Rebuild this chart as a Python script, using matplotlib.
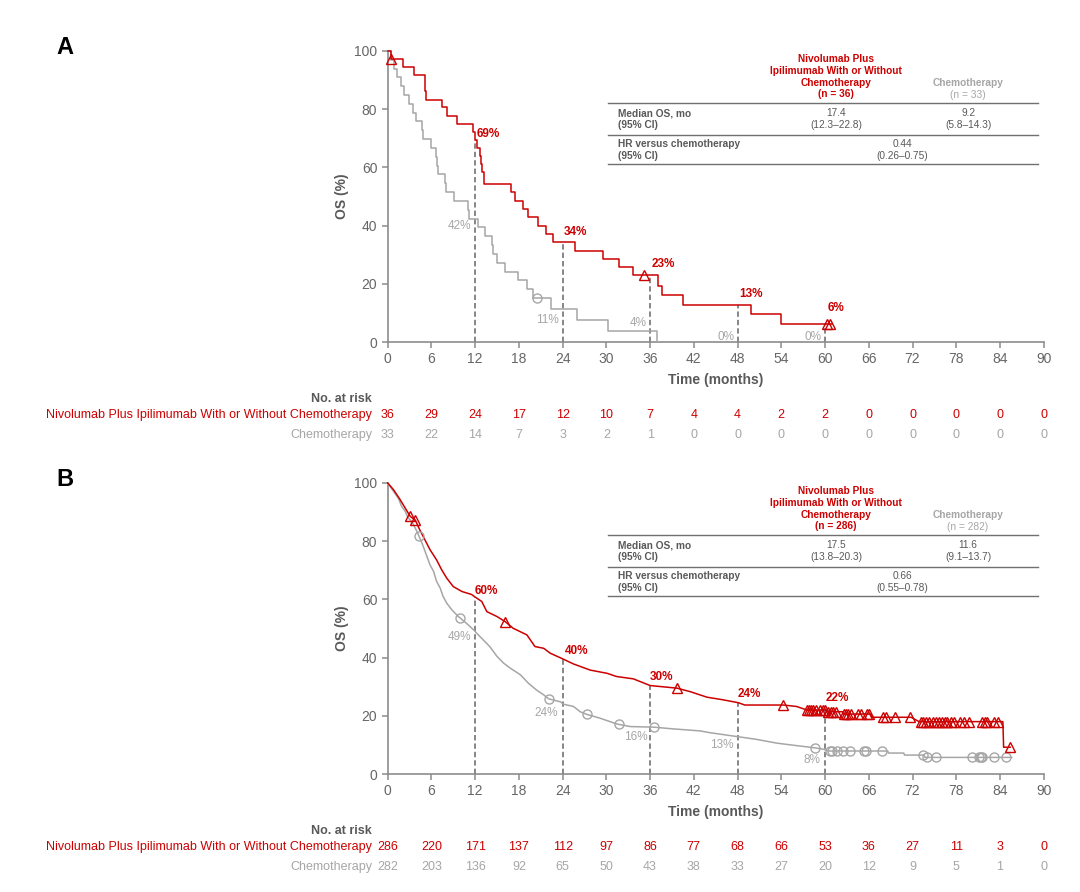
import numpy as np
import matplotlib.pyplot as plt
from matplotlib.lines import Line2D
from matplotlib.transforms import blended_transform_factory

plt.rcParams['font.family'] = ['Liberation Sans', 'DejaVu Sans']

RED = '#CC0000'
GREY = '#A6A6A6'
DARK = '#595959'
AXIS = '#8C8C8C'
W, H = 1080, 892

# ---------------- panel A (step curves) ----------------
a_nivo_t = [0, 0.4, 2.15, 3.6, 5.1, 5.2, 7.4, 8.1, 9.5, 11.7, 12.0, 12.3, 12.6, 12.8,
            12.95, 13.2, 16.9, 17.5, 18.5, 19.3, 20.6, 21.7, 22.7, 25.7, 29.5, 31.7,
            33.7, 37.1, 37.7, 40.5, 49.8, 53.9, 60.9]
a_nivo_s = [100, 97.2, 94.4, 91.7, 86.1, 83.3, 80.6, 77.8, 75.0, 72.2, 69.4, 66.7, 63.9,
            61.1, 58.3, 54.3, 51.4, 48.6, 45.7, 42.9, 40.0, 37.1, 34.3, 31.4, 28.6, 25.7,
            22.9, 19.4, 16.1, 12.8, 9.5, 6.3, 6.3]
a_chemo_t = [0, 0.4, 0.8, 1.24, 1.78, 2.29, 2.97, 3.43, 3.89, 4.67, 4.89, 5.9, 6.59, 6.72,
             6.86, 7.87, 8.0, 9.15, 11.07, 11.2, 12.35, 13.36, 14.32, 14.5, 14.96, 16.1,
             17.93, 19.08, 19.9, 22.37, 25.94, 30.19, 37.0]
a_chemo_s = [100, 97.0, 93.9, 90.9, 87.9, 84.8, 81.8, 78.8, 75.8, 72.7, 69.7, 66.7, 63.6,
             60.6, 57.6, 54.5, 51.5, 48.5, 45.5, 42.4, 39.4, 36.4, 33.3, 30.3, 27.3, 24.2,
             21.2, 18.2, 15.2, 11.4, 7.6, 3.8, 0]
a_nivo_cens = [0.4, 35.2, 60.3, 60.7]
a_chemo_cens = [20.45]
a_nivo_pct = ['69%', '34%', '23%', '13%', '6%']
a_chemo_pct = ['42%', '11%', '4%', '0%', '0%']
a_nivo_risk = [36, 29, 24, 17, 12, 10, 7, 4, 4, 2, 2, 0, 0, 0, 0, 0]
a_chemo_risk = [33, 22, 14, 7, 3, 2, 1, 0, 0, 0, 0, 0, 0, 0, 0, 0]
a_table = {'n': ['(n = 36)', '(n = 33)'], 'med': ['17.4', '9.2'],
           'ci': ['(12.3–22.8)', '(5.8–14.3)'], 'hr': '0.44', 'hrci': '(0.26–0.75)'}

# ---------------- panel B (dense curves, read as polylines) ----------------
b_nivo_t = [0, 0.8, 1.7, 2.4, 3.1, 3.8, 4.4, 5.1, 5.8, 6.7, 7.4, 8.1, 9.0, 10.2, 11.5,
            12.0, 12.9, 13.6, 15.0, 16.1, 17.2, 19.1, 20.2, 21.4, 22.3, 23.9, 25.5, 27.8,
            30.1, 31.4, 33.7, 36.0, 39.7, 41.5, 43.8, 46.0, 48.1, 49.0, 54.3, 56.1, 57.5,
            60.2, 60.3, 62.4, 62.5, 66.3, 66.4, 71.8, 72.9, 84.4, 84.5, 85.4]
b_nivo_s = [100, 97.7, 94.3, 91.4, 88.5, 87.2, 83.9, 80.5, 77.1, 73.6, 70.2, 67.3, 64.4,
            62.7, 61.7, 60.8, 59.3, 55.8, 54.1, 52.4, 50.1, 47.8, 43.8, 43.2, 41.5, 39.7,
            37.8, 35.7, 34.6, 33.5, 32.7, 30.4, 29.5, 28.3, 26.4, 25.5, 24.5, 23.7, 23.7,
            23.2, 22.0, 22.0, 21.4, 21.4, 20.6, 20.6, 19.5, 19.5, 18.0, 18.0, 9.2, 9.2]
b_chemo_t = [0, 0.8, 1.5, 1.9, 2.4, 2.8, 3.3, 4.0, 4.7, 5.3, 5.8, 6.3, 6.7, 7.2, 7.6, 8.1,
             8.8, 9.7, 10.8, 11.8, 12.2, 13.1, 14.0, 15.0, 15.9, 16.8, 18.2, 19.3, 20.4,
             21.4, 22.1, 23.7, 24.1, 25.5, 26.4, 27.3, 29.1, 30.5, 31.4, 33.3, 36.5, 39.2,
             42.9, 44.2, 48.1, 50.6, 53.4, 56.6, 58.6, 59.8, 60.5, 68.6, 68.7, 70.8, 70.9,
             73.6, 73.7, 85.6]
b_chemo_s = [100, 97.1, 94.6, 92.0, 90.3, 88.0, 86.8, 83.4, 79.4, 75.3, 71.9, 69.6, 66.2,
             63.9, 61.0, 58.7, 56.4, 54.1, 51.8, 49.5, 48.4, 46.1, 43.8, 40.4, 38.1, 36.4,
             34.1, 31.2, 28.9, 27.2, 25.8, 24.8, 24.0, 23.2, 21.4, 20.5, 19.2, 18.0, 17.2,
             16.3, 16.1, 15.5, 14.8, 14.2, 12.8, 11.9, 10.6, 9.6, 9.0, 8.5, 7.9, 7.9, 7.2,
             7.2, 6.5, 6.5, 5.7, 5.7]
b_nivo_cens = [3.1, 3.8, 16.1, 39.7, 54.3, 57.5, 57.8, 58.1, 58.4, 58.7, 59.3, 59.7, 60.0,
               60.4, 60.8, 61.1, 61.5, 62.6, 62.9, 63.2, 63.6, 64.5, 65.0, 65.7, 66.1, 68.0,
               68.4, 69.6, 71.6, 73.2, 73.5, 73.9, 74.3, 74.8, 75.2, 75.6, 76.0, 76.4, 76.8,
               77.3, 77.7, 78.5, 79.0, 79.8, 81.6, 81.9, 82.2, 83.2, 83.7, 85.4]
b_chemo_cens = [4.3, 9.9, 22.1, 27.3, 31.7, 36.5, 58.6, 60.7, 60.9, 61.6, 62.5, 63.4, 65.3,
                65.6, 67.8, 73.5, 74.0, 75.2, 80.2, 81.1, 81.4, 81.6, 83.2, 84.8]
b_nivo_pct = ['60%', '40%', '30%', '24%', '22%']
b_chemo_pct = ['49%', '24%', '16%', '13%', '8%']
b_nivo_risk = [286, 220, 171, 137, 112, 97, 86, 77, 68, 66, 53, 36, 27, 11, 3, 0]
b_chemo_risk = [282, 203, 136, 92, 65, 50, 43, 38, 33, 27, 20, 12, 9, 5, 1, 0]
b_table = {'n': ['(n = 286)', '(n = 282)'], 'med': ['17.5', '11.6'],
           'ci': ['(13.8–20.3)', '(9.1–13.7)'], 'hr': '0.66', 'hrci': '(0.55–0.78)'}

landmarks = [12, 24, 36, 48, 60]
risk_times = list(range(0, 91, 6))
nivo_head = ['Nivolumab Plus', 'Ipilimumab With or Without', 'Chemotherapy']
nivo_name = 'Nivolumab Plus Ipilimumab With or Without Chemotherapy'


def step_val(t, s, x):
    i = np.searchsorted(t, x, side='right') - 1
    return np.asarray(s)[i]


def line_val(t, s, x):
    return np.interp(x, t, s)


fig = plt.figure(figsize=(W / 100, H / 100), dpi=100)


def ftxt(x, y, s, **kw):
    fig.text(x / W, 1 - y / H, s, va='center', **kw)


def hline(x0, x1, y):
    fig.add_artist(Line2D([x0 / W, x1 / W], [1 - y / H] * 2, color='#707070', lw=1.0))


def panel(top, letter, nivo, chemo, stepped, cens_n, cens_c, pct_n, pct_c,
          pos_n, pos_c, risk_n, risk_c, tab):
    ax = fig.add_axes([387.7 / W, 1 - (top + 291) / H, 656 / W, 291 / H])
    getv = step_val if stepped else line_val
    kw = dict(lw=1.1, clip_on=False, zorder=3)
    if stepped:
        ax.step(chemo[0], chemo[1], where='post', color=GREY, **kw)
        ax.step(nivo[0], nivo[1], where='post', color=RED, **kw)
    else:
        ax.plot(chemo[0], chemo[1], color=GREY, **kw)
        ax.plot(nivo[0], nivo[1], color=RED, **kw)
    ax.plot(cens_c, getv(chemo[0], chemo[1], cens_c), 'o', ms=6.5, mfc='none',
            mec=GREY, mew=1.0, zorder=4, clip_on=False)
    ax.plot(cens_n, getv(nivo[0], nivo[1], cens_n), '^', ms=6.5, mfc='none',
            mec=RED, mew=1.0, zorder=5, clip_on=False)
    lm_vals = getv(nivo[0], nivo[1], landmarks)
    ax.vlines(landmarks, 0, lm_vals, colors='#666666', linestyles=(0, (3.5, 2)), lw=1.1,
              zorder=2)
    for s, (x, y) in zip(pct_n, pos_n):
        ax.text(x, y, s, color=RED, fontsize=8.5, fontweight='bold', va='center', ha='left')
    for s, (x, y) in zip(pct_c, pos_c):
        ax.text(x, y, s, color=GREY, fontsize=8.5, va='center', ha='right')

    ax.set_xlim(0, 90)
    ax.set_ylim(0, 100)
    ax.set_xticks(risk_times)
    ax.set_yticks(range(0, 101, 20))
    for sp in ['top', 'right']:
        ax.spines[sp].set_visible(False)
    for sp in ['left', 'bottom']:
        ax.spines[sp].set_color(AXIS)
        ax.spines[sp].set_linewidth(1.2)
    ax.tick_params(colors=AXIS, labelcolor='#666666', labelsize=10, length=4, width=1.1)
    ax.set_xlabel('Time (months)', fontsize=10, fontweight='bold', color=DARK, labelpad=5)
    ax.set_ylabel('OS (%)', fontsize=10, fontweight='bold', color=DARK, labelpad=4)

    ftxt(56, top - 4, letter, fontsize=17, fontweight='bold', color='black')

    # summary table
    y0 = top + 8
    for k, s in enumerate(nivo_head + [tab['n'][0]]):
        ftxt(836, y0 + 11.8 * k, s, color=RED, fontsize=7.3, fontweight='bold', ha='center')
    ftxt(968, y0 + 23.6, 'Chemotherapy', color=GREY, fontsize=7.3, fontweight='bold',
         ha='center')
    ftxt(968, y0 + 35.6, tab['n'][1], color=GREY, fontsize=7.3, ha='center')
    hline(608, 1038, y0 + 43.5)
    ftxt(618, y0 + 54.5, 'Median OS, mo', color=DARK, fontsize=7.3, fontweight='bold')
    ftxt(618, y0 + 66.5, '(95% CI)', color=DARK, fontsize=7.3, fontweight='bold')
    for xc, m, c in zip([836, 968], tab['med'], tab['ci']):
        ftxt(xc, y0 + 54.5, m, color=DARK, fontsize=7.3, ha='center')
        ftxt(xc, y0 + 66.5, c, color=DARK, fontsize=7.3, ha='center')
    hline(608, 1038, y0 + 75.5)
    ftxt(618, y0 + 85, 'HR versus chemotherapy', color=DARK, fontsize=7.3, fontweight='bold')
    ftxt(618, y0 + 97, '(95% CI)', color=DARK, fontsize=7.3, fontweight='bold')
    ftxt(902, y0 + 85, tab['hr'], color=DARK, fontsize=7.3, ha='center')
    ftxt(902, y0 + 97, tab['hrci'], color=DARK, fontsize=7.3, ha='center')
    hline(608, 1038, y0 + 104.5)

    # number at risk
    ry = top + 348
    ftxt(372, ry, 'No. at risk', color=DARK, fontsize=9, fontweight='bold', ha='right')
    ftxt(372, ry + 16, nivo_name, color=RED, fontsize=9, ha='right')
    ftxt(372, ry + 36, 'Chemotherapy', color=GREY, fontsize=9, ha='right')
    tr = blended_transform_factory(ax.transData, fig.transFigure)
    for t, n_n, n_c in zip(risk_times, risk_n, risk_c):
        ax.text(t, 1 - (ry + 16) / H, str(n_n), transform=tr, color=RED, fontsize=9,
                ha='center', va='center')
        ax.text(t, 1 - (ry + 36) / H, str(n_c), transform=tr, color=GREY, fontsize=9,
                ha='center', va='center')
    return ax


panel(51, 'A', (a_nivo_t, a_nivo_s), (a_chemo_t, a_chemo_s), True,
      a_nivo_cens, a_chemo_cens, a_nivo_pct, a_chemo_pct,
      [(12.2, 71.6), (24.2, 37.7), (36.2, 26.7), (48.2, 16.5), (60.3, 11.7)],
      [(11.4, 39.8), (23.5, 7.5), (35.6, 6.5), (47.6, 1.7), (59.5, 1.7)],
      a_nivo_risk, a_chemo_risk, a_table)

panel(483, 'B', (b_nivo_t, b_nivo_s), (b_chemo_t, b_chemo_s), False,
      b_nivo_cens, b_chemo_cens, b_nivo_pct, b_chemo_pct,
      [(11.9, 63.0), (24.3, 42.3), (36.0, 33.4), (48.0, 27.5), (60.1, 26.1)],
      [(11.4, 47.1), (23.4, 21.0), (35.6, 12.7), (47.5, 10.0), (59.4, 4.8)],
      b_nivo_risk, b_chemo_risk, b_table)

fig.savefig('out.png', dpi=100)
